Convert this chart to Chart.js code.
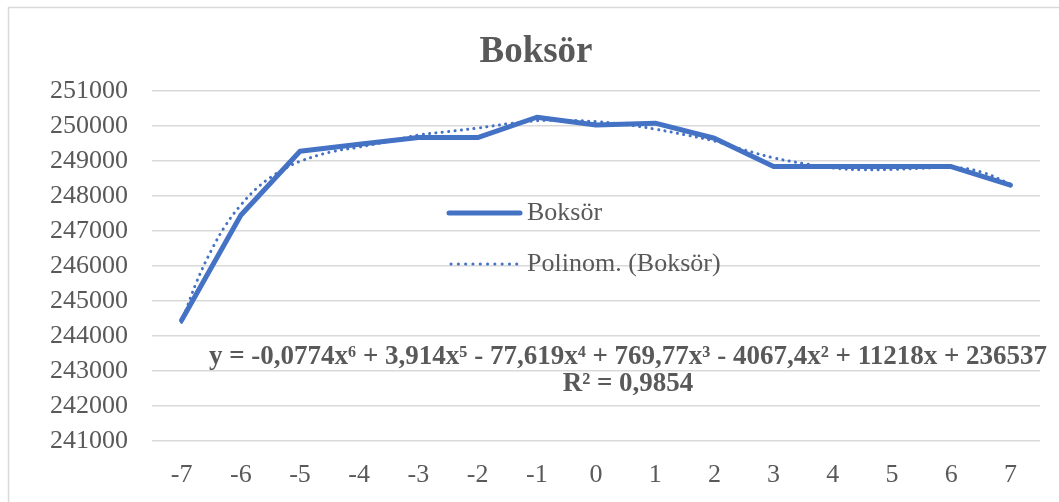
<!DOCTYPE html>
<html>
<head>
<meta charset="utf-8">
<script src="https://cdn.jsdelivr.net/npm/chart.js@4"></script>
<style>
  html, body { margin: 0; padding: 0; background: #ffffff; }
  #wrap { position: relative; width: 1059px; height: 502px; }
  canvas { display: block; }
</style>
</head>
<body>
<div id="wrap"><canvas id="c" width="1059" height="502"></canvas></div>
<script>
// ---- data ----
const chartTitle = "Boksör";
const seriesName = "Boksör";
const trendName = "Polinom. (Boksör)";
const equationText = "y = -0,0774x⁶ + 3,914x⁵ - 77,619x⁴ + 769,77x³ - 4067,4x² + 11218x + 236537";
const r2Text = "R² = 0,9854";

const xCategories = [-7, -6, -5, -4, -3, -2, -1, 0, 1, 2, 3, 4, 5, 6, 7];
const boksorValues = [244450, 247450, 249280, 249480, 249670, 249670, 250250, 250030, 250080, 249650, 248840, 248840, 248840, 248840, 248310];

const trendX = [-7, -6.75, -6.5, -6.25, -6, -5.75, -5.5, -5.25, -5, -4.5, -4, -3.5, -3, -2.5, -2, -1.5, -1, -0.5, 0, 0.5, 1, 1.5, 2, 2.5, 3, 3.5, 4, 4.5, 5, 5.5, 6, 6.5, 7];
const trendY = [244390, 245530, 246440, 247180, 247740, 248190, 248530, 248790, 248990, 249250, 249400, 249560, 249740, 249840, 249940, 250060, 250150, 250160, 250125, 250040, 249910, 249750, 249570, 249320, 249090, 248930, 248800, 248750, 248760, 248790, 248820, 248690, 248340];

const yTickValues = [241000, 242000, 243000, 244000, 245000, 246000, 247000, 248000, 249000, 250000, 251000];

// ---- styling ----
const BLUE = "#4472C4";
const TEXT = "#595959";
const GRID = "#d9d9d9";
const SERIF = "'Liberation Serif', 'Times New Roman', 'DejaVu Serif', serif";

const boksorPoints = xCategories.map((x, i) => ({ x: x, y: boksorValues[i] }));
const trendPoints = trendX.map((x, i) => ({ x: x, y: trendY[i] }));

const frameAndOverlay = {
  id: 'frameAndOverlay',
  beforeDraw(chart) {
    const ctx = chart.ctx;
    ctx.save();
    ctx.fillStyle = '#ffffff';
    ctx.fillRect(0, 0, chart.width, chart.height);
    ctx.strokeStyle = GRID;
    ctx.lineWidth = 1.5;
    ctx.strokeRect(8.5, 7.5, chart.width + 50, chart.height + 50);
    // title
    ctx.fillStyle = TEXT;
    ctx.font = "bold 37px " + SERIF;
    ctx.textAlign = 'center';
    ctx.textBaseline = 'alphabetic';
    ctx.fillText(chartTitle, 536, 62);
    ctx.restore();
  },
  afterDraw(chart) {
    const ctx = chart.ctx;
    const a = chart.chartArea;
    ctx.save();
    // legend inside the plot
    const lx0 = a.left + 297, lx1 = a.left + 368;
    const row1 = a.top + 122, row2 = a.top + 173;
    ctx.lineCap = 'round';
    ctx.strokeStyle = BLUE;
    ctx.lineWidth = 5;
    ctx.beginPath(); ctx.moveTo(lx0, row1); ctx.lineTo(lx1, row1); ctx.stroke();
    ctx.lineWidth = 3;
    ctx.setLineDash([0.1, 7.2]);
    ctx.beginPath(); ctx.moveTo(lx0 + 2, row2); ctx.lineTo(lx1, row2); ctx.stroke();
    ctx.setLineDash([]);
    ctx.fillStyle = TEXT;
    ctx.font = "26px " + SERIF;
    ctx.textAlign = 'left';
    ctx.textBaseline = 'middle';
    ctx.fillText(seriesName, lx1 + 7, row1);
    ctx.fillText(trendName, lx1 + 7, row2);
    // trendline equation
    ctx.font = "bold 27px " + SERIF;
    ctx.textAlign = 'center';
    const cx = a.left + 476;
    ctx.fillText(equationText, cx, a.top + 266);
    ctx.fillText(r2Text, cx, a.top + 293);
    ctx.restore();
  }
};

new Chart(document.getElementById('c'), {
  type: 'line',
  data: {
    datasets: [
      {
        label: trendName,
        data: trendPoints,
        borderColor: BLUE,
        backgroundColor: BLUE,
        borderWidth: 3,
        borderDash: [0.1, 6.3],
        borderCapStyle: 'round',
        pointRadius: 0,
        tension: 0.4,
        fill: false
      },
      {
        label: seriesName,
        data: boksorPoints,
        borderColor: BLUE,
        backgroundColor: BLUE,
        borderWidth: 5,
        borderCapStyle: 'round',
        borderJoinStyle: 'round',
        pointRadius: 0,
        tension: 0,
        fill: false
      }
    ]
  },
  options: {
    responsive: false,
    animation: false,
    devicePixelRatio: 1,
    layout: { padding: { left: 9, right: 19, top: 91, bottom: 11 } },
    plugins: {
      legend: { display: false },
      tooltip: { enabled: false },
      title: { display: false }
    },
    scales: {
      x: {
        type: 'linear',
        min: -7.5,
        max: 7.5,
        afterBuildTicks(axis) { axis.ticks = xCategories.map(v => ({ value: v })); },
        afterFit(axis) { axis.height = 50; },
        grid: { display: false, drawTicks: false },
        border: { display: false },
        ticks: {
          color: TEXT,
          font: { family: SERIF, size: 26 },
          padding: 19,
          maxRotation: 0,
          autoSkip: false
        }
      },
      y: {
        min: 241000,
        max: 251000,
        afterBuildTicks(axis) { axis.ticks = yTickValues.map(v => ({ value: v })); },
        afterFit(axis) { axis.width = 143; },
        grid: { color: GRID, lineWidth: 1.5, drawTicks: false },
        border: { display: false },
        ticks: {
          color: TEXT,
          font: { family: SERIF, size: 26 },
          padding: 24,
          callback: (v) => String(v)
        }
      }
    }
  },
  plugins: [frameAndOverlay]
});
</script>
</body>
</html>
